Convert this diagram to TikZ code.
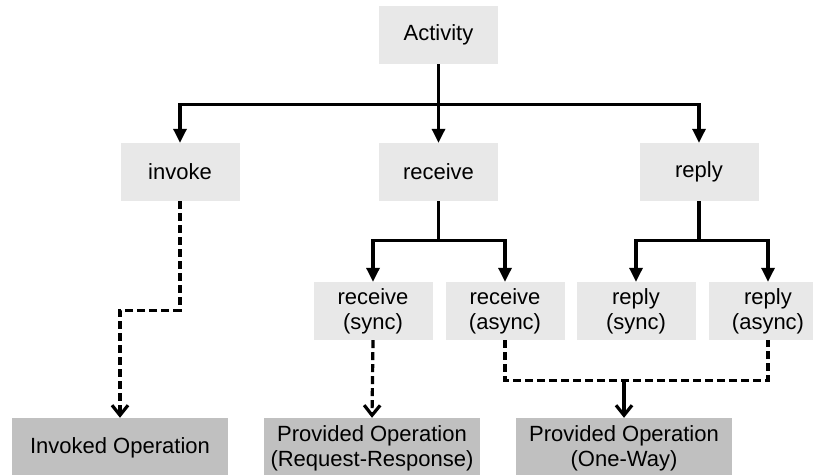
\documentclass[tikz,border=0pt]{standalone}
\usepackage{fontspec}
\setmainfont{Liberation Sans}
\usetikzlibrary{arrows.meta, positioning}
\definecolor{boxgray}{HTML}{E8E8E8}
\definecolor{opgray}{HTML}{C0C0C0}

\begin{document}
\begin{tikzpicture}[x=1pt, y=-1pt,
  box/.style={fill=boxgray, minimum width=119pt, minimum height=58pt, inner sep=0pt, align=center, font=\fontsize{22}{25}\selectfont},
  opbox/.style={box, fill=opgray, minimum width=216pt, minimum height=60pt},
  link/.style={line width=3.2pt, -{Triangle[length=14pt, width=13pt]}},
  dlink/.style={line width=3.2pt, dash pattern=on 8pt off 4pt},
  barb/.style={-{Straight Barb[length=10pt, width=16pt]}}]
\useasboundingbox (0,0) rectangle (813,474);
\node [box] (act) at (438.5,35) {Activity};
\node [box] (invoke) at (180,172) {invoke};
\node [box] (recv) at (438.5,172) {receive};
\node [box] (reply) at (699,172) {reply};
\node [box] (recvsync) at (373,311) {receive\\(sync)};
\node [box] (recvasync) at (505,311) {receive\\(async)};
\node [box] (replysync) at (636,311) {reply\\(sync)};
\node [box] (replyasync) at (768,311) {reply\\(async)};
\node [opbox] (invop) at (120,448) {Invoked Operation};
\node [opbox] (rrop) at (372,448) {Provided Operation\\(Request-Response)};
\node [opbox] (owop) at (624,448) {Provided Operation\\(One-Way)};
\draw [line width=3.2pt] (act.south) -- ++(0,40) coordinate (ja);
\draw [link] (ja) -| (invoke.north);
\draw [link] (ja) -- (recv.north);
\draw [link] (ja) -| (reply.north);
\draw [line width=3.2pt] (recv.south) -- ++(0,39) coordinate (jr);
\draw [link] (jr) -| (recvsync.north);
\draw [link] (jr) -| (recvasync.north);
\draw [line width=3.2pt] (reply.south) -- ++(0,39) coordinate (jp);
\draw [link] (jp) -| (replysync.north);
\draw [link] (jp) -| (replyasync.north);
\draw [dlink, barb] (invoke.south) -- ++(0,109) -| (invop.north);
\draw [dlink, barb] (recvsync.south) -- (rrop.north);
\draw [dlink] (recvasync.south) -- ++(0,40) coordinate (jo) -| (replyasync.south);
\coordinate (jw) at (jo -| owop.north);
\draw [line width=3.2pt, barb] (jw) -- (owop.north);
\end{tikzpicture}
\end{document}
